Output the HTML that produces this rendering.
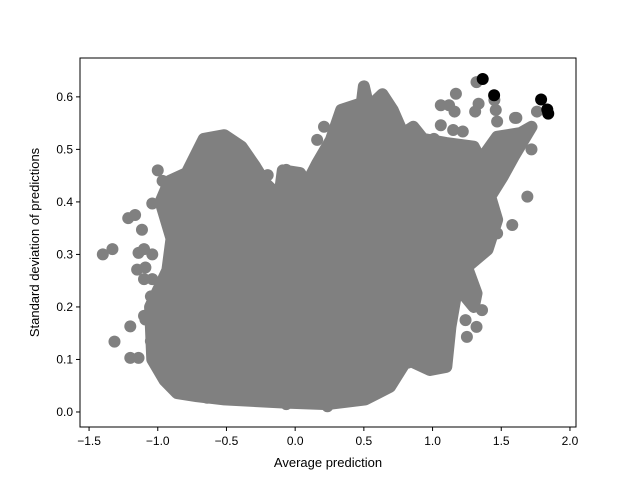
<!DOCTYPE html>
<html><head><meta charset="utf-8"><style>
body{margin:0;background:#fff;}
svg{display:block;font-family:"Liberation Sans","DejaVu Sans",sans-serif;}
</style></head><body>
<svg id="chart" width="640" height="480" viewBox="0 0 640 480" xmlns="http://www.w3.org/2000/svg">
<rect width="640" height="480" fill="#fff"/>
<g id="marks"></g>
<g id="axes"></g>
</svg>
<script>
// dense region outline (data coords)
const blobX=[-0.95,-1.04,-1.056,-0.93,-0.9,-0.98,-0.915,-0.79,-0.665,-0.515,-0.39,-0.29,-0.215,-0.115,-0.09,0.035,0.085,0.16,0.26,0.335,0.485,0.5,0.535,0.635,0.71,0.785,0.86,0.93,1.10,1.30,1.35,1.47,1.64,1.72,1.59,1.51,1.42,1.47,1.40,1.25,1.32,1.30,1.18,1.13,1.10,0.98,0.815,0.69,0.51,0.235,-0.09,-0.515,-0.715,-0.86];
const blobY=[0.06,0.10,0.2,0.27,0.33,0.40,0.44,0.455,0.52,0.527,0.505,0.467,0.435,0.41,0.46,0.455,0.435,0.473,0.518,0.575,0.588,0.62,0.58,0.605,0.575,0.53,0.543,0.52,0.512,0.505,0.48,0.524,0.531,0.543,0.486,0.448,0.41,0.366,0.309,0.276,0.226,0.2,0.238,0.162,0.086,0.08,0.1,0.048,0.024,0.015,0.018,0.024,0.03,0.036];
// individual grey points
const ptX=[-1.0,-0.965,-1.04,-1.215,-1.165,-1.115,-1.14,-1.1,-1.04,-1.15,-1.09,-1.1,-1.04,-1.05,-1.1,-1.09,-1.2,-1.315,-1.4,-1.33,-1.2,-1.14,-1.05,-0.64,-0.2,-0.065,0.21,0.16,1.32,1.335,1.31,1.17,1.06,1.12,1.16,1.06,1.15,1.22,1.45,1.46,1.47,1.6,1.76,1.58,1.69,1.47,1.36,1.25,1.32,1.24,1.72,1.61,0.82,0.85,1.01,0.96,0.995,0.82,0.81,0.67,0.235,-0.065];
const ptY=[0.46,0.44,0.397,0.369,0.375,0.347,0.303,0.31,0.3,0.271,0.275,0.253,0.253,0.22,0.183,0.176,0.163,0.134,0.3,0.31,0.103,0.103,0.135,0.027,0.451,0.461,0.543,0.518,0.628,0.587,0.572,0.606,0.584,0.584,0.572,0.546,0.537,0.534,0.594,0.575,0.553,0.56,0.572,0.356,0.41,0.34,0.194,0.143,0.162,0.175,0.5,0.56,0.527,0.503,0.52,0.128,0.113,0.094,0.125,0.049,0.011,0.015];
// highlighted black points
const hiX=[1.365,1.448,1.79,1.835,1.842];
const hiY=[0.634,0.603,0.595,0.576,0.568];
const xTicks=[-1.5,-1.0,-0.5,0.0,0.5,1.0,1.5,2.0];
const yTicks=[0.0,0.1,0.2,0.3,0.4,0.5,0.6];

const L=80,R=576,T=58,B=427;
const xmin=-1.566,xmax=2.044,ymin=-0.0286,ymax=0.674;
const sx=v=>L+(v-xmin)/(xmax-xmin)*(R-L);
const sy=v=>B-(v-ymin)/(ymax-ymin)*(B-T);
const NS='http://www.w3.org/2000/svg';
const mk=(t,a,p)=>{const e=document.createElementNS(NS,t);for(const k in a)e.setAttribute(k,a[k]);p.appendChild(e);return e;};
const marks=document.getElementById('marks'),axes=document.getElementById('axes');

const poly=mk('polygon',{points:blobX.map((x,i)=>sx(x)+','+sy(blobY[i])).join(' '),fill:'#808080',stroke:'#808080','stroke-width':12,'stroke-linejoin':'round'},marks);


ptX.forEach((x,i)=>{const c=mk('circle',{cx:sx(x),cy:sy(ptY[i]),r:6,fill:'#808080'},marks);

});
hiX.forEach((x,i)=>{const c=mk('circle',{cx:sx(x),cy:sy(hiY[i]),r:6,fill:'#000'},marks);

});

const fr=mk('rect',{x:L,y:T,width:R-L,height:B-T,fill:'none',stroke:'#000','stroke-width':1},axes);


xTicks.forEach(v=>{const x=sx(v);mk('line',{x1:x,x2:x,y1:B,y2:B+4,stroke:'#000'},axes);
const t=mk('text',{x:x,y:B+18,'text-anchor':'middle','font-size':12},axes);t.textContent=v.toFixed(1).replace('-','\u2212');

});
yTicks.forEach(v=>{const y=sy(v);mk('line',{x1:L-4,x2:L,y1:y,y2:y,stroke:'#000'},axes);
const t=mk('text',{x:L-7,y:y+4,'text-anchor':'end','font-size':12},axes);t.textContent=v.toFixed(1);

});
const xt=mk('text',{x:(L+R)/2,y:467,'text-anchor':'middle','font-size':13},axes);xt.textContent='Average prediction';


const yt=mk('text',{x:0,y:0,transform:'translate(39,'+((T+B)/2)+') rotate(-90)','text-anchor':'middle','font-size':13},axes);yt.textContent='Standard deviation of predictions';


</script>
</body></html>
